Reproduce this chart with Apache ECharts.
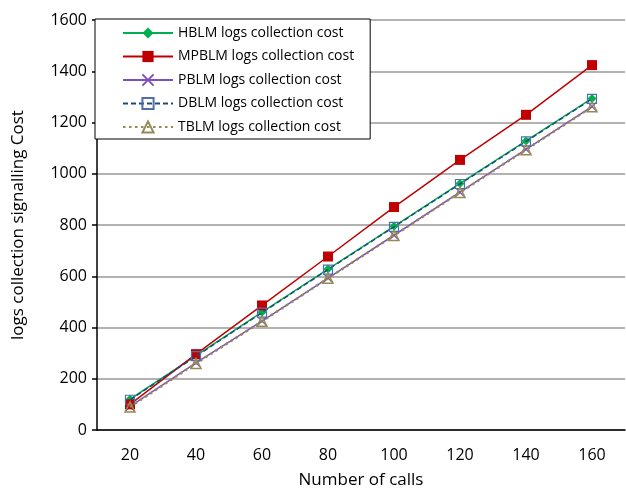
<!DOCTYPE html>
<html>
<head>
<meta charset="utf-8">
<script src="https://cdn.jsdelivr.net/npm/echarts@6/dist/echarts.min.js"></script>
<style>
  html, body { margin: 0; padding: 0; background: #fff; }
  #chart { width: 626px; height: 494px; }
</style>
</head>
<body>
<div id="chart"></div>
<script>
// x categories (number of calls)
const calls = ['20', '40', '60', '80', '100', '120', '140', '160'];

// logs collection signalling cost
const hblm  = [120, 290, 460, 628, 795, 962, 1128, 1294];
const mpblm = [100, 296, 486, 677, 870, 1054, 1230, 1424];
const pblm  = [92, 262, 425, 593, 760, 928, 1095, 1262];
const dblm  = [118, 288, 458, 626, 793, 960, 1126, 1292];
const tblm  = [90, 260, 424, 592, 759, 927, 1094, 1261];

const FONT = 'Open Sans';

const chart = echarts.init(document.getElementById('chart'));

const xMark = 'path://M0,0L10,10M10,0L0,10';

const option = {
  animation: false,
  backgroundColor: '#fff',
  textStyle: { fontFamily: FONT, color: '#000' },
  grid: { left: 97, right: 1, top: 20, bottom: 62 },
  legend: {
    orient: 'vertical',
    left: 95,
    top: 19,
    backgroundColor: '#fff',
    borderColor: '#000',
    borderWidth: 1,
    padding: [7, 16, 5, 27],
    itemWidth: 50,
    itemHeight: 14,
    itemGap: 9.5,
    textStyle: { fontFamily: FONT, fontSize: 14, color: '#000' },
    data: [
      'HBLM logs collection cost',
      'MPBLM logs collection cost',
      'PBLM logs collection cost',
      'DBLM logs collection cost',
      'TBLM logs collection cost'
    ]
  },
  xAxis: {
    type: 'category',
    data: calls,
    boundaryGap: true,
    name: 'Number of calls',
    nameLocation: 'middle',
    nameGap: 42,
    nameTextStyle: { fontSize: 17, color: '#000' },
    axisLine: { lineStyle: { color: '#000', width: 1.5 } },
    axisTick: { show: false },
    axisLabel: { fontSize: 16, color: '#000', margin: 17 },
    splitLine: { show: false }
  },
  yAxis: {
    type: 'value',
    min: 0,
    max: 1600,
    interval: 200,
    name: 'logs collection signalling Cost',
    nameLocation: 'middle',
    nameGap: 70,
    nameTextStyle: { fontSize: 17, color: '#000' },
    axisLine: { show: true, lineStyle: { color: '#000', width: 1.5 } },
    axisTick: { show: true, length: 5, lineStyle: { color: '#000', width: 1.5 } },
    axisLabel: { fontSize: 16, color: '#000', margin: 10, formatter: (v) => String(v) },
    splitLine: { show: true, lineStyle: { color: '#999', width: 1.5 } }
  },
  series: [
    {
      name: 'HBLM logs collection cost',
      type: 'line',
      data: hblm,
      symbol: 'diamond',
      symbolSize: 9,
      lineStyle: { color: '#00B050', width: 1.5 },
      itemStyle: { color: '#00B050' },
      z: 3
    },
    {
      name: 'MPBLM logs collection cost',
      type: 'line',
      data: mpblm,
      symbol: 'rect',
      symbolSize: 10,
      lineStyle: { color: '#C00000', width: 1.5 },
      itemStyle: { color: '#C00000' },
      z: 4
    },
    {
      name: 'PBLM logs collection cost',
      type: 'line',
      data: pblm,
      symbol: xMark,
      symbolSize: 8,
      lineStyle: { color: '#7F4FC0', width: 1.5 },
      itemStyle: { color: '#7F4FC0', borderColor: '#7F4FC0', borderWidth: 1.3 },
      z: 3
    },
    {
      name: 'DBLM logs collection cost',
      type: 'line',
      data: dblm,
      symbol: 'rect',
      symbolSize: 9,
      lineStyle: { color: '#1F497D', width: 1.5, type: [5, 3] },
      itemStyle: { color: 'rgba(255,255,255,0)', borderColor: '#4F6FA8', borderWidth: 1.2 },
      z: 5
    },
    {
      name: 'TBLM logs collection cost',
      type: 'line',
      data: tblm,
      symbol: 'triangle',
      symbolSize: 10,
      lineStyle: { color: '#948A54', width: 2.5, type: [2.5, 3.5] },
      itemStyle: { color: 'rgba(255,255,255,0)', borderColor: '#948A54', borderWidth: 1.5 },
      z: 5
    }
  ]
};

chart.setOption(option);
</script>
</body>
</html>
